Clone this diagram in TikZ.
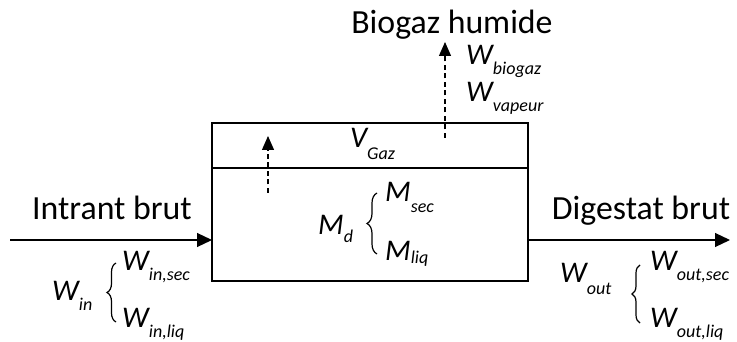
\documentclass[tikz,border=0pt]{standalone}
\usepackage{fontspec}
\setmainfont{Carlito}
\usetikzlibrary{arrows.meta,positioning,decorations.pathreplacing}
\newcommand{\grand}[3][-10pt]{{\fontsize{30}{30}\selectfont\itshape #2}%
  \raisebox{#1}{\fontsize{18}{18}\selectfont\itshape #3}}
\tikzset{
  reactor/.style={draw, line width=2pt, minimum width=316pt,
                  inner sep=0pt, outer sep=0pt},
  lbl/.style    ={font=\fontsize{33.8}{40}\selectfont, inner sep=0pt, anchor=base},
  sym/.style    ={inner sep=0pt, anchor=base west},
  flow/.style   ={-{Triangle[length=15pt,width=14pt]}, line width=1.2pt},
  vflow/.style  ={-{Triangle[length=14pt,width=12pt]}, line width=1.2pt,
                  dash pattern=on 5pt off 3.5pt},
  accolade/.style={decorate, decoration={brace, amplitude=#1}, line width=1.2pt},
  accolade/.default=9pt,
}

\begin{document}
\begin{tikzpicture}[x=1pt, y=-1pt]
  \useasboundingbox (0,0) rectangle (737,342);
  % digesteur
  \node[reactor, minimum height=113pt] (liq) at (370,224.5) {};
  \node[reactor, minimum height=45pt, above=0pt of liq] (gaz) {};
  \node[sym] (vgaz) at (350,148) {\grand[-12pt]{V}{Gaz}};
  \node[sym] (md)   at (318,235) {\grand[-8pt]{M}{d}};
  \node[sym] (msec) at (385,202) {\grand{M}{sec}};
  \node[sym] (mliq) at (385,261) {\grand[-2pt]{M}{liq}};
  \draw[accolade=10pt] (377,254) -- (377,193);

  % entree / sortie
  \node[lbl] (intrant) at (112,220) {Intrant brut};
  \node[lbl] (digestat) at (641,220) {Digestat brut};
  \node[lbl] (biogaz) at (452,34) {Biogaz humide};
  \coordinate (src) at (10,240);
  \coordinate (sink) at (730,240);
  \draw[flow] (src) -- (src -| liq.west);
  \draw[flow] (sink -| liq.east) -- (sink);

  % flux de gaz
  \coordinate (bulle) at (268,193);
  \coordinate (bulletop) at (268,136);
  \coordinate (gazbas) at (445,138);
  \coordinate (gazhaut) at (445,42);
  \draw[vflow] (bulle) -- (bulletop);
  \draw[vflow] (gazbas) -- (gazhaut);
  \node[sym] (wbio) at (466,65)  {\grand{W}{biogaz}};
  \node[sym] (wvap) at (466,102) {\grand{W}{vapeur}};

  % flux massiques
  \node[sym] (win)    at (52,300)  {\grand{W}{in}};
  \node[sym] (winsec) at (122,270) {\grand{W}{in,sec}};
  \node[sym] (winliq) at (122,327) {\grand{W}{in,liq}};
  \draw[accolade] (116,322) -- (116,263);
  \node[sym] (wout)    at (560,283) {\grand[-11pt]{W}{out}};
  \node[sym] (woutsec) at (650,270) {\grand{W}{out,sec}};
  \node[sym] (woutliq) at (650,327) {\grand{W}{out,liq}};
  \draw[accolade=8pt] (640,323) -- (640,265);
\end{tikzpicture}
\end{document}
